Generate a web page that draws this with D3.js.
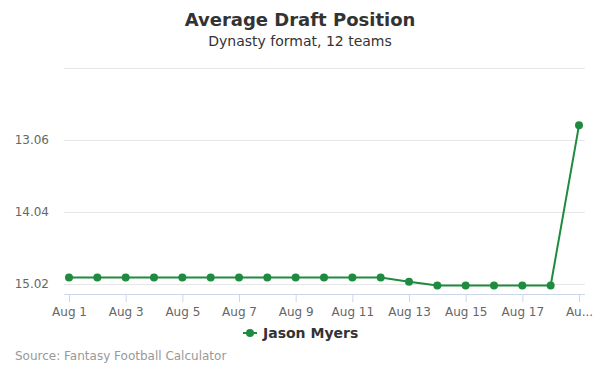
<!DOCTYPE html>
<html>
<head>
<meta charset="utf-8">
<script src="https://cdn.jsdelivr.net/npm/d3@7"></script>
<style>
  body { margin: 0; background: #fff; }
  svg { font-family: "DejaVu Sans", sans-serif; }
</style>
</head>
<body>
<div id="chart"></div>
<script>
// Données
const dates = ["Aug 1", "Aug 2", "Aug 3", "Aug 4", "Aug 5", "Aug 6", "Aug 7", "Aug 8", "Aug 9", "Aug 10",
    "Aug 11", "Aug 12", "Aug 13", "Aug 14", "Aug 15", "Aug 16", "Aug 17", "Aug 18", "Aug 19"];
const adpValues = [14.93, 14.93, 14.93, 14.93, 14.93, 14.93, 14.93, 14.93, 14.93, 14.93,
    14.93, 14.93, 14.99, 15.04, 15.04, 15.04, 15.04, 15.04, 12.86];
const xTickDates = ["Aug 1", "Aug 3", "Aug 5", "Aug 7", "Aug 9", "Aug 11", "Aug 13", "Aug 15", "Aug 17", "Aug 19"];
const xTickLabels = ["Aug 1", "Aug 3", "Aug 5", "Aug 7", "Aug 9", "Aug 11", "Aug 13", "Aug 15", "Aug 17", "Au..."];
const yTicks = [12.08, 13.06, 14.04, 15.02];
const yDomain = [12.08, 15.156];
const seriesName = "Jason Myers";

function createChart() {
    const width = 600, height = 375;
    const plot = { left: 64, right: 585, top: 68, bottom: 294 };
    const color = "#1f8b3f";

    const svg = d3.select("#chart")
        .append("svg")
        .attr("width", width)
        .attr("height", height);

    // Titres
    svg.append("text")
        .attr("x", 300).attr("y", 26)
        .attr("text-anchor", "middle")
        .style("font-size", "18px")
        .style("font-weight", "bold")
        .attr("fill", "#333")
        .text("Average Draft Position");

    svg.append("text")
        .attr("x", 300).attr("y", 46)
        .attr("text-anchor", "middle")
        .style("font-size", "14px")
        .attr("fill", "#333")
        .text("Dynasty format, 12 teams");

    // Échelles
    const x = d3.scalePoint()
        .domain(dates)
        .range([69, 579]);

    const y = d3.scaleLinear()
        .domain(yDomain)
        .range([plot.top, plot.bottom]);

    // Grille
    svg.append("g")
        .selectAll("line")
        .data(yTicks)
        .enter()
        .append("line")
        .attr("x1", plot.left)
        .attr("x2", plot.right)
        .attr("y1", d => Math.round(y(d)) + 0.5)
        .attr("y2", d => Math.round(y(d)) + 0.5)
        .attr("stroke", "#e6e6e6");

    // Axe Y (labels seulement)
    svg.append("g")
        .selectAll("text")
        .data(yTicks.filter(d => d !== yTicks[0]))
        .enter()
        .append("text")
        .attr("x", 49)
        .attr("y", d => y(d) + 4)
        .attr("text-anchor", "end")
        .style("font-size", "12px")
        .attr("fill", "#666")
        .text(d => d.toFixed(2));

    // Axe X
    const xAxis = svg.append("g")
        .attr("transform", `translate(0,${plot.bottom})`)
        .call(d3.axisBottom(x)
            .tickValues(xTickDates)
            .tickSize(8)
            .tickSizeOuter(0)
            .tickPadding(5)
            .tickFormat((d, i) => xTickLabels[i]));

    xAxis.select(".domain")
        .attr("d", `M${plot.left},0.5H${plot.right}`)
        .attr("stroke", "#ccd6eb");
    xAxis.selectAll(".tick line").attr("stroke", "#ccd6eb");
    xAxis.selectAll(".tick text")
        .style("font-size", "12px")
        .style("font-family", "DejaVu Sans, sans-serif")
        .attr("fill", "#666");

    // Ligne
    const line = d3.line()
        .x((d, i) => x(dates[i]))
        .y(d => y(d));

    svg.append("path")
        .datum(adpValues)
        .attr("fill", "none")
        .attr("stroke", color)
        .attr("stroke-width", 2)
        .attr("d", line);

    svg.append("g")
        .selectAll("circle")
        .data(adpValues)
        .enter()
        .append("circle")
        .attr("cx", (d, i) => x(dates[i]))
        .attr("cy", d => y(d))
        .attr("r", 4)
        .attr("fill", color);

    // Légende
    const legend = svg.append("g")
        .attr("transform", "translate(243,333)");

    legend.append("line")
        .attr("x1", 0).attr("x2", 14)
        .attr("y1", 0).attr("y2", 0)
        .attr("stroke", color)
        .attr("stroke-width", 2);

    legend.append("circle")
        .attr("cx", 7).attr("cy", 0).attr("r", 4)
        .attr("fill", color);

    legend.append("text")
        .attr("x", 20).attr("y", 5)
        .style("font-size", "14px")
        .style("font-weight", "bold")
        .attr("fill", "#333")
        .text(seriesName);

    // Source
    svg.append("text")
        .attr("x", 15).attr("y", 360)
        .style("font-size", "12px")
        .attr("fill", "#999")
        .text("Source: Fantasy Football Calculator");
}

createChart();
</script>
</body>
</html>
